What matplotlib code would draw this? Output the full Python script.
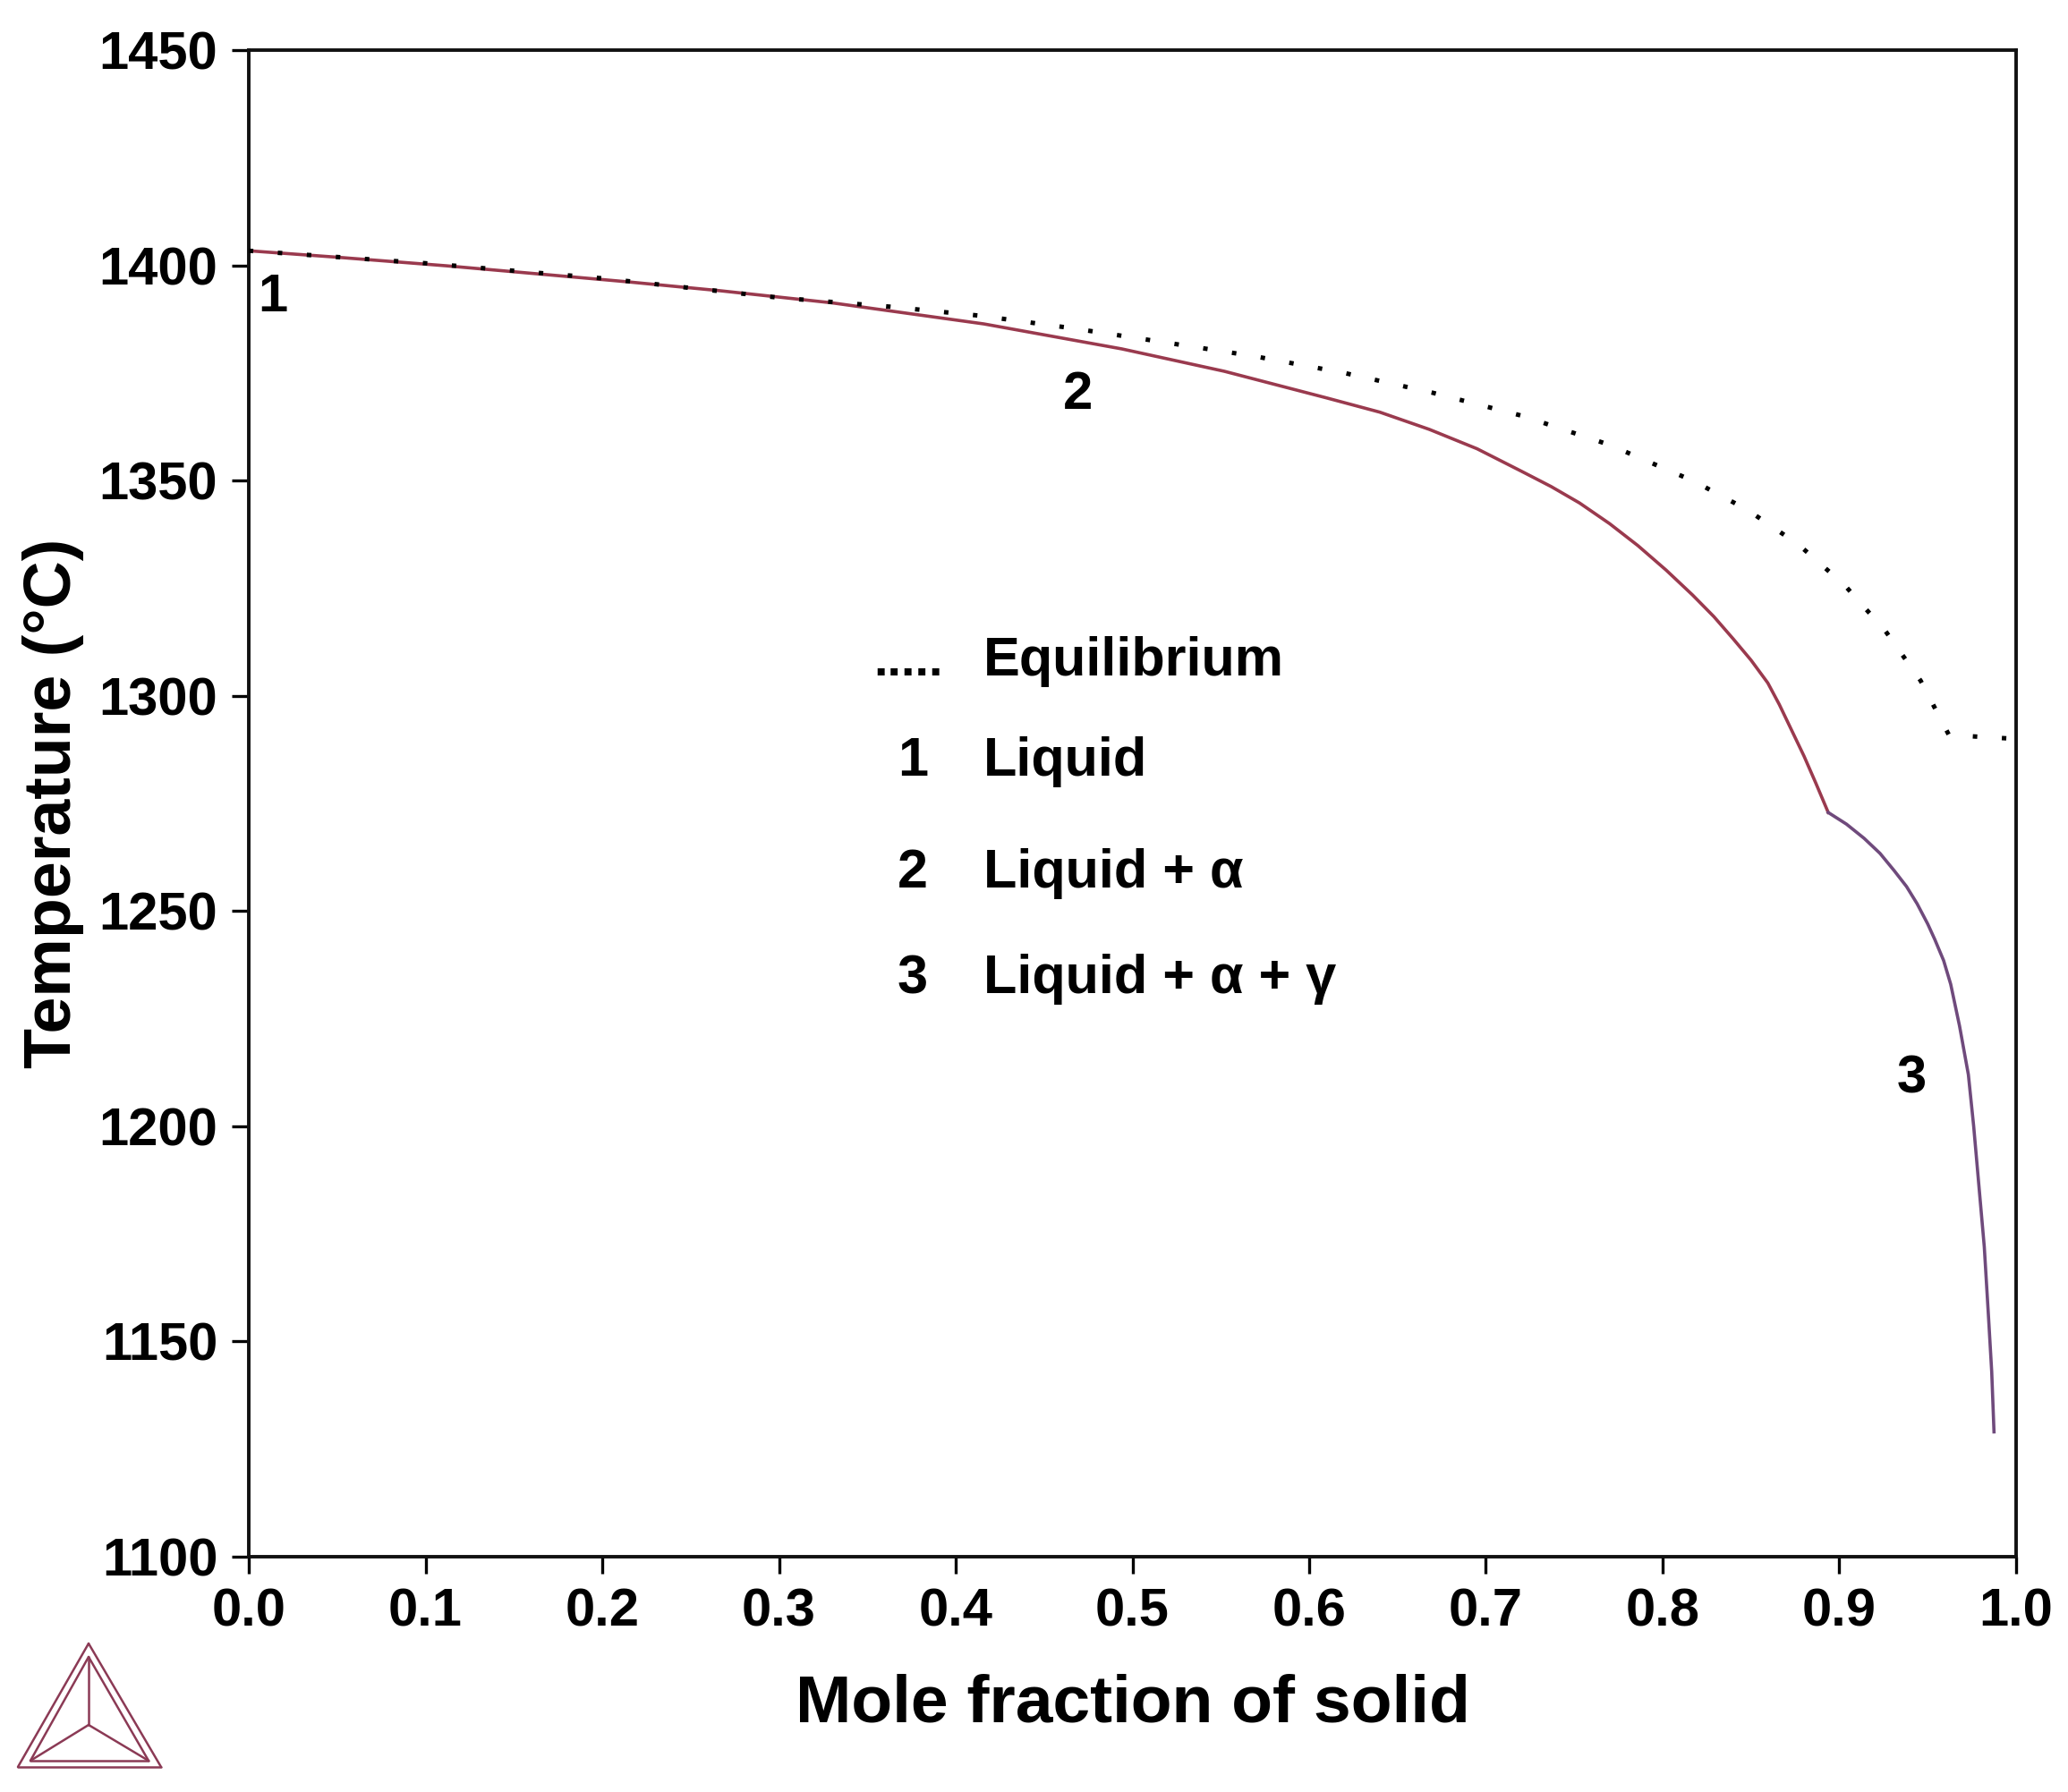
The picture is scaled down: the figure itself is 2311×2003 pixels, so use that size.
import matplotlib
matplotlib.use("Agg")
import matplotlib.pyplot as plt
from matplotlib.lines import Line2D

plt.rcParams['font.family'] = ['Liberation Sans', 'DejaVu Sans']
plt.rcParams['font.weight'] = 'bold'

# ---- data ----
# Scheil curve, regions 1-2 (Liquid, Liquid + alpha)
scheil12_x = [0.0, 0.05, 0.112, 0.214, 0.267, 0.33, 0.416, 0.494, 0.552, 0.610,
              0.640, 0.668, 0.695, 0.720, 0.737, 0.753, 0.770, 0.786, 0.802, 0.817,
              0.829, 0.840, 0.850, 0.8595, 0.866, 0.873, 0.880, 0.8866, 0.8937]
scheil12_T = [1403.4, 1401.9, 1399.9, 1396.2, 1394.1, 1391.3, 1386.4, 1380.6, 1375.4, 1369.2,
              1365.9, 1361.9, 1357.4, 1352.2, 1348.6, 1344.8, 1340.0, 1334.9, 1329.2, 1323.4,
              1318.4, 1313.2, 1308.3, 1303.0, 1298.0, 1292.0, 1286.0, 1279.8, 1272.9]
# Scheil curve, region 3 (Liquid + alpha + gamma)
scheil3_x = [0.8937, 0.904, 0.914, 0.923, 0.931, 0.938, 0.944, 0.950, 0.954, 0.959,
             0.963, 0.968, 0.973, 0.976, 0.979, 0.982, 0.9845, 0.9862, 0.9875]
scheil3_T = [1272.9, 1270.2, 1266.9, 1263.4, 1259.4, 1255.7, 1251.7, 1247.0, 1243.4, 1238.5,
             1233.0, 1223.3, 1212.0, 1200.0, 1186.0, 1172.0, 1155.0, 1143.0, 1129.0]
# Equilibrium curve (dotted)
equil_x = [0.0, 0.1, 0.2, 0.30, 0.363, 0.414, 0.466, 0.517, 0.569, 0.620, 0.670,
           0.721, 0.770, 0.818, 0.848, 0.877, 0.903, 0.926, 0.946, 0.962, 1.0]
equil_T = [1403.4, 1400.5, 1397.0, 1392.5, 1390.4, 1388.3, 1385.4, 1382.2, 1378.9, 1375.0, 1370.4,
           1365.0, 1358.3, 1349.8, 1343.2, 1335.1, 1325.7, 1315.1, 1303.5, 1290.9, 1290.0]

region_labels = ['1', '2', '3']
region_label_x = [0.0137, 0.469, 0.941]
region_label_T = [1389.3, 1366.7, 1207.7]

legend_marks = ['.....', '1', '2', '3']
legend_texts = ['Equilibrium', 'Liquid', 'Liquid + \u03b1', 'Liquid + \u03b1 + \u03b3']
legend_T = [1304.7, 1281.4, 1255.5, 1230.9]

x_ticks = [0.0, 0.1, 0.2, 0.3, 0.4, 0.5, 0.6, 0.7, 0.8, 0.9, 1.0]
y_ticks = [1100, 1150, 1200, 1250, 1300, 1350, 1400, 1450]

# ---- figure ----
fig = plt.figure(figsize=(23.11, 20.03), dpi=100)
ax = fig.add_axes([0.1203, 0.1313, 0.9749 - 0.1203, 0.9720 - 0.1313])

c12 = '#9a3a4e'
c3 = '#6f4a7c'
ax.plot(scheil12_x, scheil12_T, color=c12, lw=2.6, solid_joinstyle='round', zorder=2)
ax.plot(scheil3_x, scheil3_T, color=c3, lw=2.6, solid_joinstyle='round', zorder=2)
ax.plot(equil_x, equil_T, color='black', lw=3.6, linestyle=(0, (1, 5.5)), zorder=3)

ax.set_xlim(0.0, 1.0)
ax.set_ylim(1100, 1450)
ax.set_xticks(x_ticks)
ax.set_yticks(y_ticks)
ax.set_xticklabels([f'{v:.1f}' for v in x_ticks])
ax.set_yticklabels([str(v) for v in y_ticks])
ax.tick_params(axis='both', direction='out', length=14, width=2.4, labelsize=43, pad=11,
               color='black')
for lab in ax.get_xticklabels() + ax.get_yticklabels():
    lab.set_fontweight('bold')
for sp in ax.spines.values():
    sp.set_linewidth(2.8)
    sp.set_color('#111111')

ax.set_xlabel('Mole fraction of solid', fontsize=54, fontweight='bold', labelpad=29)
ax.set_ylabel('Temperature (\u00b0C)', fontsize=53, fontweight='bold', labelpad=12)

for s, x, t in zip(region_labels, region_label_x, region_label_T):
    ax.text(x, t, s, fontsize=43, fontweight='bold', ha='center', va='baseline', zorder=4)

mark_x = [0.3534, 0.3757, 0.3757, 0.3757]
for i, (m, txt, t) in enumerate(zip(legend_marks, legend_texts, legend_T)):
    if i == 0:
        ax.text(mark_x[i], t, m, fontsize=40, fontweight='bold', ha='left', va='baseline')
    else:
        ax.text(mark_x[i], t, m, fontsize=44, fontweight='bold', ha='center', va='baseline')
    ax.text(0.4157, t, txt, fontsize=44, fontweight='bold', ha='left', va='baseline')

# ---- Thermo-Calc style logo (decoration, figure pixel coords) ----
W, H = 2311.0, 2003.0
def fx(px):
    return px / W
def fy(py):
    return 1 - py / H
logo_col = '#8b3a55'
apex = (99, 1837); bl = (20, 1975); br = (180, 1975); cen = (99, 1928)
apex2 = (99, 1852); bl2 = (34, 1968); br2 = (166, 1968)
segs = [(apex, bl), (bl, br), (br, apex),
        (apex2, bl2), (bl2, br2), (br2, apex2),
        (apex2, cen), (cen, bl2), (cen, br2)]
for (p, q) in segs:
    fig.add_artist(Line2D([fx(p[0]), fx(q[0])], [fy(p[1]), fy(q[1])],
                          transform=fig.transFigure, color=logo_col, lw=1.8,
                          solid_capstyle='round'))

fig.savefig('out.png', dpi=100, facecolor='white')
